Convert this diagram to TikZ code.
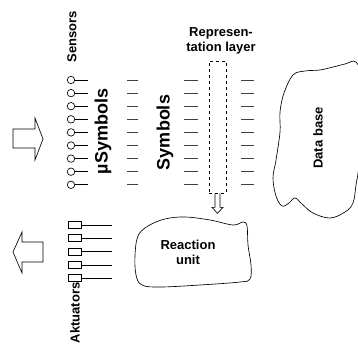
\documentclass[tikz,border=0pt]{standalone}
\usepackage{fontspec}
\setmainfont{Liberation Sans}

\begin{document}
\begin{tikzpicture}[x=1pt, y=-1pt, line width=0.65pt,
    lbl/.style={font=\fontsize{13}{15}\selectfont\bfseries, inner sep=0pt, align=center},
    big/.style={font=\fontsize{18}{20}\selectfont\bfseries, inner sep=0pt},
    sensor/.style={draw, circle, minimum size=7.5pt, inner sep=0pt},
    actor/.style={draw, rectangle, minimum width=13pt, minimum height=7pt, inner sep=0pt},
    tick/.style={black!75}]
    \useasboundingbox (0,0) rectangle (358,345);

    % input and output arrows
    \draw (13,129) -- (35,129) -- (35,118) -- (43,139) -- (35,160) -- (35,148)
        -- (13,148) -- cycle;
    \draw (43,242) -- (22,242) -- (22,232) -- (13,252) -- (22,273) -- (22,262)
        -- (43,262) -- cycle;

    % sensors and symbol layers
    \node[lbl, rotate=90] (sensors) at (72, 37) {Sensors};
    \foreach \i in {0,...,8} {
        \node[sensor] (sensor\i) at (71, 80+13.1*\i) {};
        \coordinate (sensor\i-end) at (88, 80+13.1*\i);
        \draw (sensor\i) -- (sensor\i-end);
        \draw[tick] (127, 80+13.1*\i) -- (138, 80+13.1*\i);
        \draw[tick] (184, 80+13.1*\i) -- (198, 80+13.1*\i);
        \draw[tick] (241, 80+13.1*\i) -- (254, 80+13.1*\i);
    }
    \node[big, rotate=90] (musymbols) at (103, 131.5) {µSymbols};
    \node[big, rotate=90] (symbols) at (165, 132.5) {Symbols};

    % representation layer
    \node[lbl] (replabel) at (221, 40.5) {Represen-\\tation layer};
    \node[draw, dashed, minimum width=17pt, minimum height=132pt] (rep)
        at (217.5, 127) {};
    \draw ([xshift=-2.5pt]rep.south) -- ++(0,14) -- ++(-3,0) -- ++(5.5,6)
        -- ++(5.5,-6) -- ++(-3,0) -- ++(0,-14);

    % data base
    \draw plot[smooth cycle, tension=0.6] coordinates {(293,75) (284,93)
        (280,112) (280,132) (276,160) (273,178) (276,196) (282,206) (289,203)
        (295,198) (302,204) (313,213) (330,218) (345,212) (353,203) (356,185)
        (359,165) (362,120) (362,80) (356,62) (345,64) (333,67) (320,70)
        (305,71)};
    \node[lbl, rotate=90] (database) at (318, 138) {Data base};

    % reaction unit
    \draw plot[smooth cycle, tension=0.6] coordinates {(148,226) (165,219)
        (185,217) (210,220) (233,225) (243,222) (247,226) (248,245) (251,265)
        (250,279) (240,282) (200,285) (160,287) (142,285) (136,275) (135,255)
        (138,236)};
    \node[lbl] (reaction) at (188, 252) {Reaction\\unit};

    % aktuators
    \foreach \i in {0,...,4} {
        \node[actor] (act\i) at (75, 225+13.3*\i) {};
        \coordinate (act\i-end) at (112, 225+13.3*\i);
        \draw (act\i) -- (act\i-end);
    }
    \node[lbl, rotate=90] (aktuators) at (75, 313) {Aktuators};
\end{tikzpicture}
\end{document}
